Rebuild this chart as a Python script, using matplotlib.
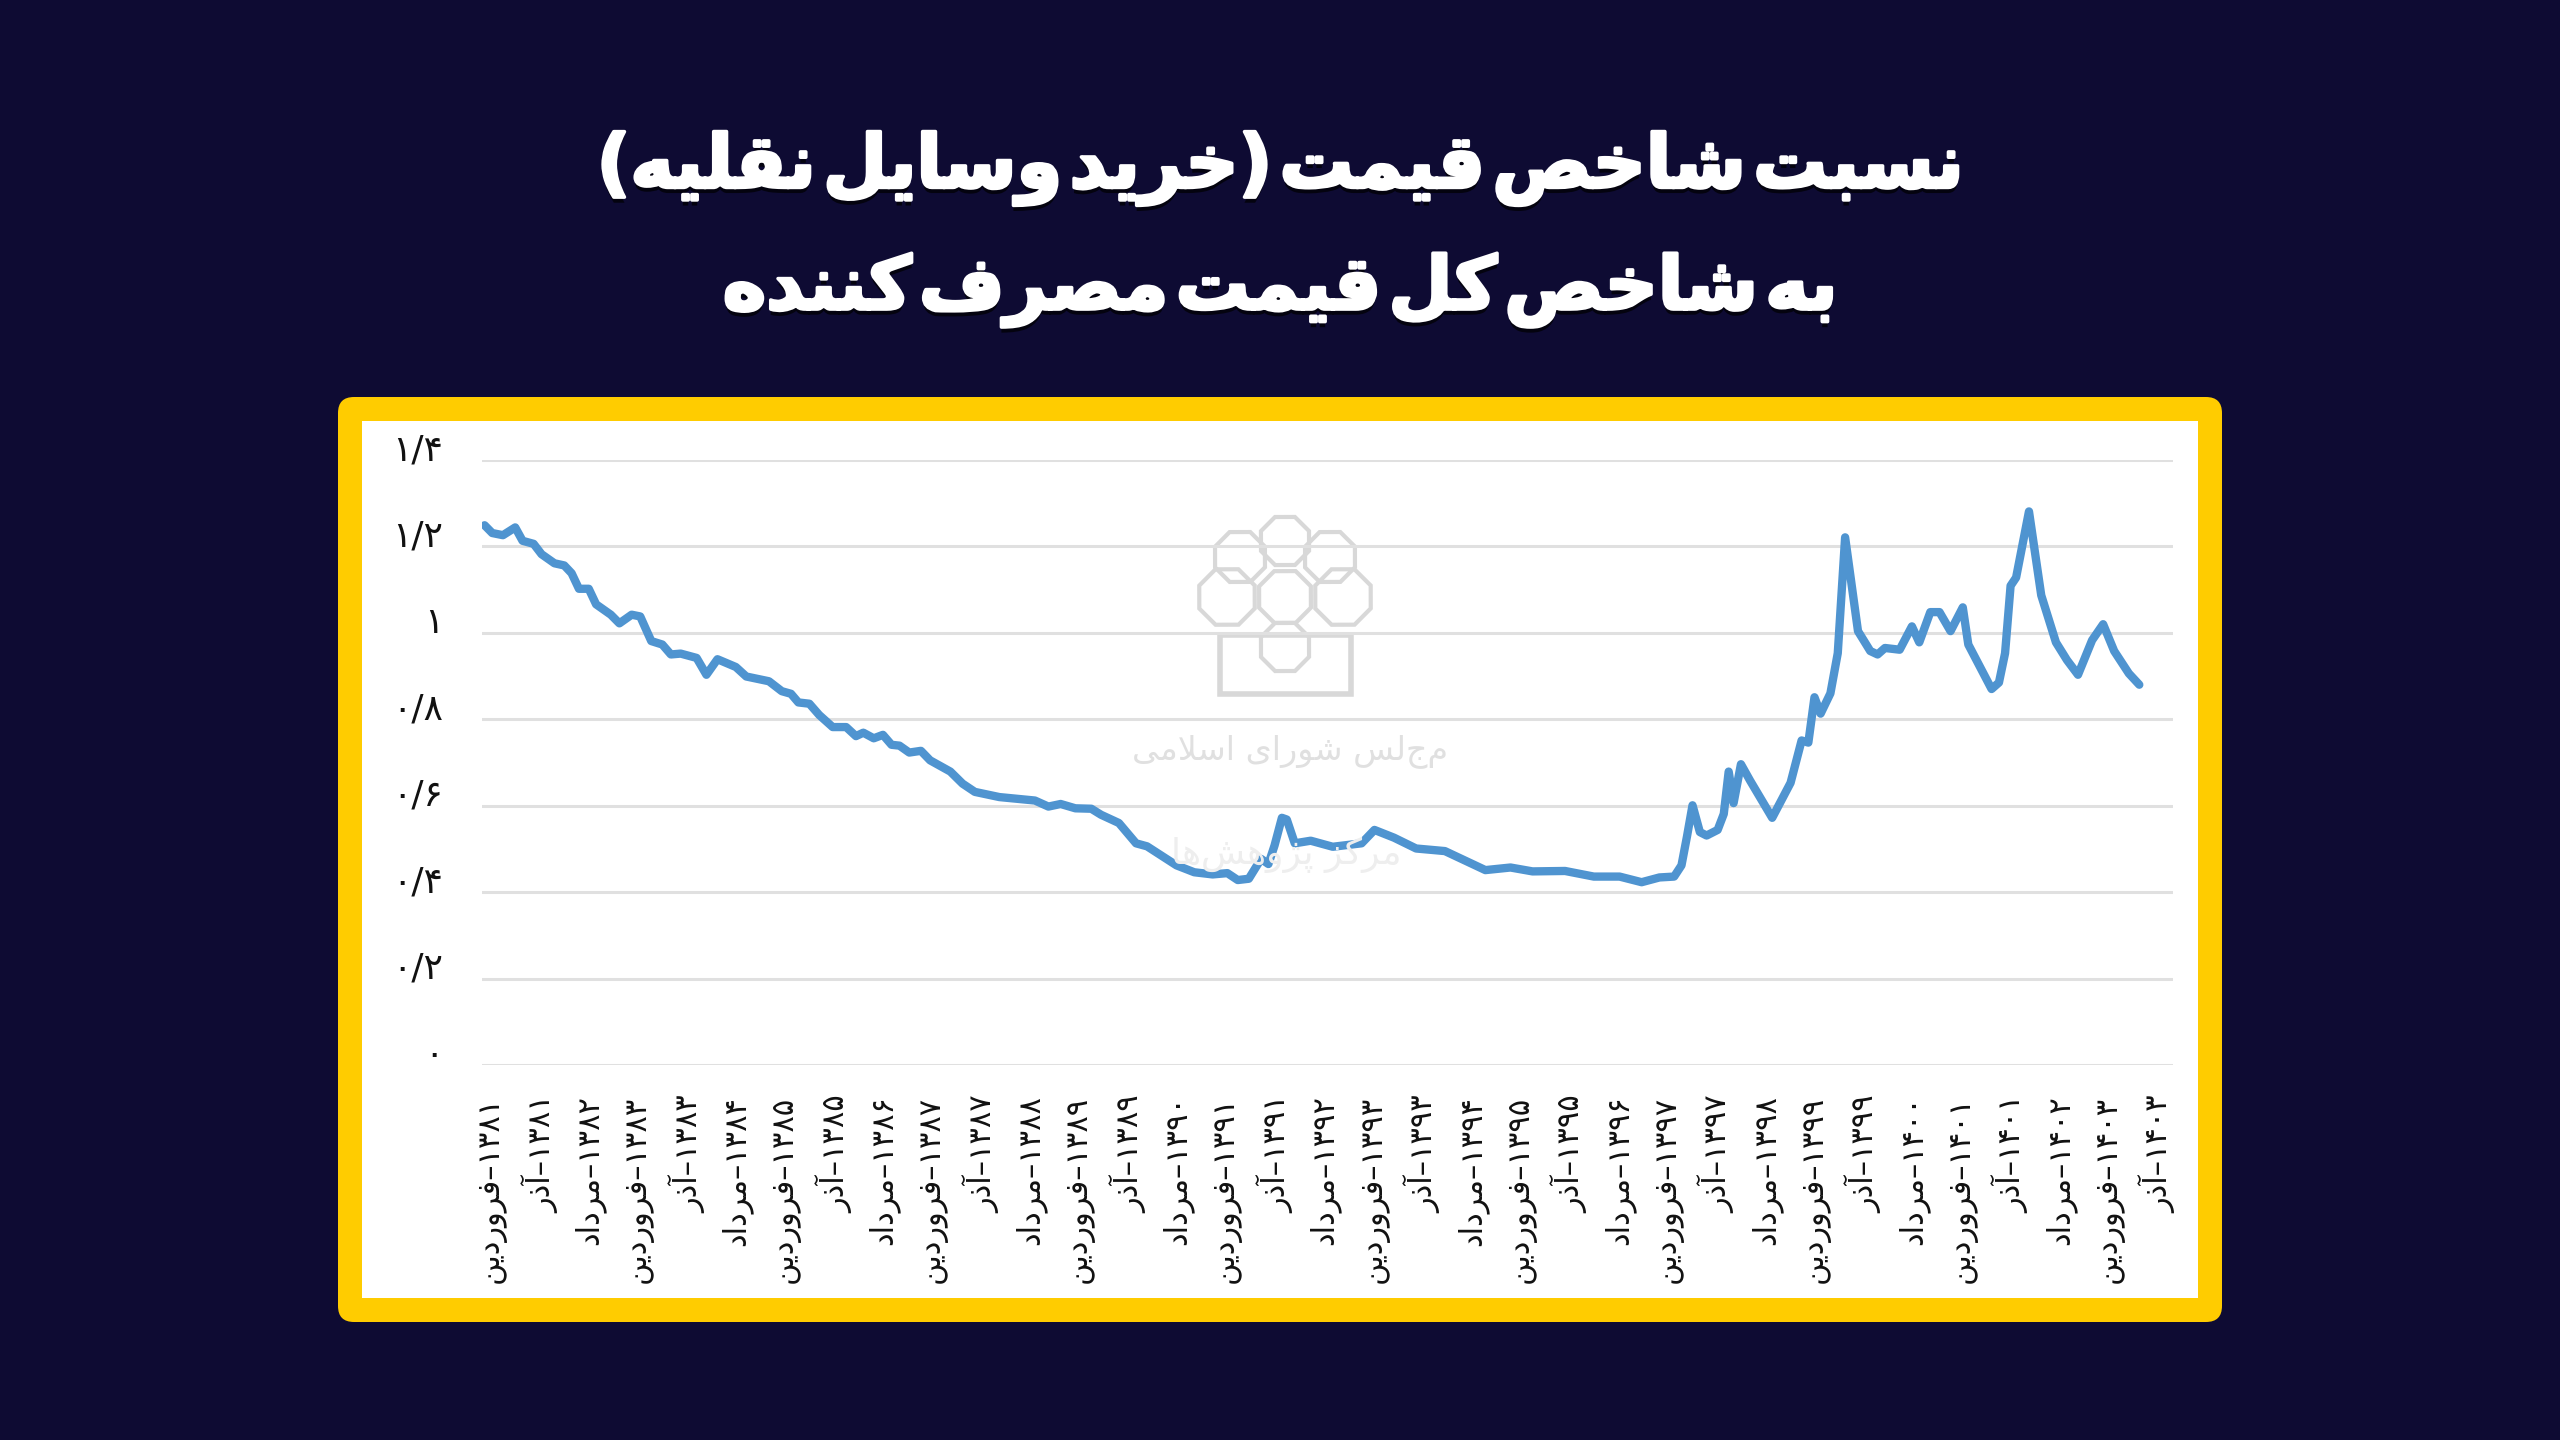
import matplotlib
matplotlib.use("Agg")
import matplotlib.pyplot as plt
import matplotlib.patheffects as pe
from matplotlib.patches import FancyBboxPatch, Rectangle, RegularPolygon

# monthly index (0 = farvardin 1381) and ratio
months = [0, 1.25, 3, 5, 6.2, 8, 9.3, 11.4, 13, 14.2, 15.4, 17, 18.2, 20.6, 22, 24, 25.4, 27.2, 29, 30.4,
          32, 34.6, 36.2, 38, 41, 42.7, 46.4, 48.5, 50, 51.2, 53, 54.6, 56.8, 59, 60.6, 61.8, 63.5, 65, 66.4, 67.7,
          69.3, 71.2, 72.7, 76, 78, 80, 84, 89.8, 92, 94, 96.4, 99, 100.6, 103.5, 106.3, 108.1, 112.9, 115.8, 118.8, 121.2,
          122.9, 124.7, 126.7, 127.9, 128.9, 130.1, 130.9, 132.2, 134.8, 138.4, 143.1, 145.2, 148.4, 152, 156.7, 163.3, 167.4, 171, 176.3, 181,
          185.2, 188.8, 191.7, 194.1, 195.3, 196.2, 197.1, 198.3, 199.4, 201.2, 202.2, 203, 203.8, 205, 206.5, 210.1, 213.1, 214.9, 216, 217,
          218, 219.6, 220.8, 222, 224.1, 226.1, 227.3, 228.5, 230.9, 232.9, 234.1, 235.9, 237.4, 239.2, 241.2, 242.1, 244.2, 245.9, 247.1, 248.1,
          249, 249.9, 252, 254, 256.4, 258.2, 260, 262.3, 264.1, 265.9, 268.3, 270]
ratio = [1.249, 1.231, 1.226, 1.244, 1.213, 1.206, 1.182, 1.161, 1.156, 1.138, 1.102, 1.102, 1.066, 1.042, 1.022, 1.042, 1.038, 0.981, 0.973, 0.950,
         0.952, 0.942, 0.903, 0.939, 0.921, 0.899, 0.888, 0.865, 0.859, 0.839, 0.836, 0.810, 0.782, 0.782, 0.761, 0.769, 0.756, 0.764, 0.741, 0.739,
         0.723, 0.727, 0.705, 0.679, 0.651, 0.632, 0.620, 0.612, 0.598, 0.604, 0.594, 0.593, 0.579, 0.560, 0.513, 0.506, 0.462, 0.446, 0.441, 0.444,
         0.428, 0.431, 0.477, 0.465, 0.508, 0.572, 0.568, 0.513, 0.519, 0.505, 0.513, 0.544, 0.526, 0.501, 0.495, 0.451, 0.457, 0.448, 0.449, 0.436,
         0.436, 0.423, 0.434, 0.436, 0.462, 0.529, 0.601, 0.539, 0.531, 0.544, 0.581, 0.679, 0.606, 0.696, 0.658, 0.572, 0.653, 0.751, 0.746, 0.851,
         0.813, 0.860, 0.953, 1.221, 1.004, 0.958, 0.950, 0.965, 0.961, 1.015, 0.978, 1.048, 1.048, 1.004, 1.059, 0.973, 0.916, 0.870, 0.885, 0.953,
         1.109, 1.128, 1.281, 1.087, 0.978, 0.937, 0.903, 0.983, 1.020, 0.958, 0.906, 0.880]

y_ticks = [0, 0.2, 0.4, 0.6, 0.8, 1, 1.2, 1.4]
y_labels = ["۰", "۰/۲", "۰/۴", "۰/۶", "۰/۸", "۱", "۱/۲", "۱/۴"]
tick_years = ["۱۳۸۱", "۱۳۸۱", "۱۳۸۲", "۱۳۸۳", "۱۳۸۳", "۱۳۸۴", "۱۳۸۵", "۱۳۸۵", "۱۳۸۶", "۱۳۸۷", "۱۳۸۷", "۱۳۸۸",
              "۱۳۸۹", "۱۳۸۹", "۱۳۹۰", "۱۳۹۱", "۱۳۹۱", "۱۳۹۲", "۱۳۹۳", "۱۳۹۳", "۱۳۹۴", "۱۳۹۵", "۱۳۹۵", "۱۳۹۶",
              "۱۳۹۷", "۱۳۹۷", "۱۳۹۸", "۱۳۹۹", "۱۳۹۹", "۱۴۰۰", "۱۴۰۱", "۱۴۰۱", "۱۴۰۲", "۱۴۰۳", "۱۴۰۳"]
tick_months = ["فروردین", "آذر", "مرداد"] * 11 + ["فروردین", "آذر"]
# the source has almost no word gaps, hence hair spaces
title_lines = ["نسبت\u200aشاخص\u200aقیمت\u200a(خرید\u200aوسایل\u200aنقلیه)", "به\u200aشاخص\u200aکل\u200aقیمت\u200aمصرف\u200aکننده"]

# matplotlib has no arabic shaping, so map letters to presentation forms by hand
FORMS = {
    "ا": (0xFE8D, 0xFE8E), "آ": (0xFE81, 0xFE82), "ب": (0xFE8F, 0xFE90, 0xFE91, 0xFE92),
    "پ": (0xFB56, 0xFB57, 0xFB58, 0xFB59), "ت": (0xFE95, 0xFE96, 0xFE97, 0xFE98),
    "خ": (0xFEA5, 0xFEA6, 0xFEA7, 0xFEA8), "د": (0xFEA9, 0xFEAA), "ذ": (0xFEAB, 0xFEAC),
    "ر": (0xFEAD, 0xFEAE), "ز": (0xFEAF, 0xFEB0), "ژ": (0xFB8A, 0xFB8B),
    "س": (0xFEB1, 0xFEB2, 0xFEB3, 0xFEB4), "ش": (0xFEB5, 0xFEB6, 0xFEB7, 0xFEB8),
    "ص": (0xFEB9, 0xFEBA, 0xFEBB, 0xFEBC), "ف": (0xFED1, 0xFED2, 0xFED3, 0xFED4),
    "ق": (0xFED5, 0xFED6, 0xFED7, 0xFED8), "ک": (0xFB8E, 0xFB8F, 0xFB90, 0xFB91),
    "ل": (0xFEDD, 0xFEDE, 0xFEDF, 0xFEE0), "م": (0xFEE1, 0xFEE2, 0xFEE3, 0xFEE4),
    "ن": (0xFEE5, 0xFEE6, 0xFEE7, 0xFEE8), "و": (0xFEED, 0xFEEE),
    "ه": (0xFEE9, 0xFEEA, 0xFEEB, 0xFEEC), "ی": (0xFBFC, 0xFBFD, 0xFBFE, 0xFBFF),
}
MIRROR = {"(": ")", ")": "("}


def visual(text):
    out = []
    i = 0
    while i < len(text):
        c = text[i]
        if c not in FORMS:
            if c != "\u200c":
                out.append(MIRROR.get(c, c))
            i += 1
            continue
        prev = text[i - 1] if i > 0 else " "
        joined_prev = prev in FORMS and len(FORMS[prev]) == 4
        # lam + alef is one ligature
        if c == "ل" and text[i + 1:i + 2] == "ا":
            out.append(chr(0xFEFC if joined_prev else 0xFEFB))
            i += 2
            continue
        nxt = text[i + 1] if i + 1 < len(text) else " "
        forms = FORMS[c]
        joins_next = len(forms) == 4 and nxt in FORMS
        if joined_prev and joins_next:
            out.append(chr(forms[3]))
        elif joined_prev:
            out.append(chr(forms[1]))
        elif joins_next:
            out.append(chr(forms[2]))
        else:
            out.append(chr(forms[0]))
        i += 1
    return "".join(reversed(out))


W, H = 2560, 1440
plt.rcParams["font.family"] = ["DejaVu Sans"]
fig = plt.figure(figsize=(W / 100, H / 100), dpi=100, facecolor="#0E0B33")

# full-figure layer in pixel coordinates for the yellow card
bg = fig.add_axes([0, 0, 1, 1], zorder=0)
bg.set_xlim(0, W)
bg.set_ylim(H, 0)
bg.axis("off")
bg.add_patch(FancyBboxPatch((338, 397), 1884, 925, boxstyle="round,pad=0,rounding_size=16",
                            fc="#FFCC00", ec="none"))
bg.add_patch(Rectangle((362, 421), 1836, 877, fc="white", ec="none"))

for y, line in [(168, title_lines[0]), (290, title_lines[1])]:
    bg.text(1280, y, visual(line), color="white", fontsize=53, fontweight="bold",
            ha="center", va="center",
            path_effects=[pe.withSimplePatchShadow(offset=(0, -4), shadow_rgbFace="black", alpha=0.7),
                          pe.Stroke(linewidth=2.5, foreground="white"), pe.Normal()])

# watermark logo of the source
logo = "#D8D8D8"
for cx, cy, r in [(1285, 541, 26), (1240, 557, 27), (1330, 557, 27), (1227, 597, 30), (1285, 597, 28),
                  (1343, 597, 30), (1285, 647, 26)]:
    bg.add_patch(RegularPolygon((cx, cy), 8, radius=r, orientation=0.39, fc="none", ec=logo, lw=3))
bg.add_patch(Rectangle((1220, 635), 131, 59, fc="none", ec=logo, lw=4))
bg.text(1290, 751, visual("مجلس شورای اسلامی"), color="#E0E0E0", fontsize=24, ha="center", va="center")

# chart itself, px per month comes out near 6.13
ax = fig.add_axes([481.5 / W, 1 - 1065 / H, (2173 - 481.5) / W, (1065 - 460) / H], zorder=1)
ax.patch.set_alpha(0)
ax.plot(months, ratio, color="#4F94D0", linewidth=6, solid_joinstyle="round", solid_capstyle="round", zorder=3)
ax.set_xlim(-0.5, 275.5)
ax.set_ylim(0, 1.4)
ax.set_yticks(y_ticks)
ax.set_yticklabels([])
ax.grid(axis="y", color="#E0E0E0", linewidth=2.2)
ax.set_axisbelow(True)
ax.tick_params(axis="both", length=0)
for s in ax.spines.values():
    s.set_visible(False)

for y, lab in zip(y_ticks, y_labels):
    ax.annotate(lab, (0, y), xycoords=ax.get_yaxis_transform(), xytext=(-38, 10), textcoords="offset pixels",
                ha="right", va="center", fontsize=26, color="#111111", annotation_clip=False)

# labels every 8 months, drawn slightly right of the category as in the source
tick_pos = [i * 8 + 1.1 for i in range(len(tick_years))]
ax.set_xticks(tick_pos)
ax.set_xticklabels([visual(m) + "–" + yr for yr, m in zip(tick_years, tick_months)],
                   rotation=90, fontsize=22, color="#111111")
ax.tick_params(axis="x", pad=22)

# lower part of the watermark sits over the line
fg = fig.add_axes([0, 0, 1, 1], zorder=2)
fg.set_xlim(0, W)
fg.set_ylim(H, 0)
fg.axis("off")
fg.text(1286, 855, visual("مرکز پژوهش‌ها"), color="#EEEEEE", fontsize=26, ha="center", va="center")

fig.savefig("out.png", dpi=100, facecolor=fig.get_facecolor())
